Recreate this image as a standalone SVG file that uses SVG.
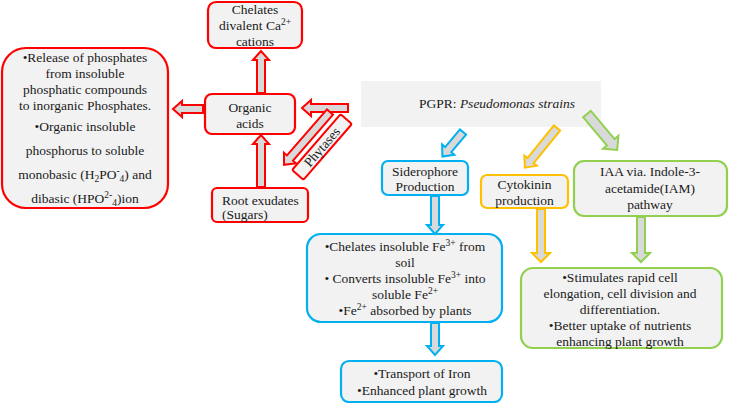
<svg xmlns="http://www.w3.org/2000/svg" width="729" height="403" viewBox="0 0 729 403">
<style>
text{font-family:'Liberation Serif','Times New Roman',serif;font-size:13.5px;fill:#1a1a1a}
.c{text-anchor:middle}
.box{fill:#f2f2f2;stroke-width:2.2}
.r{stroke:#ff0000}.b{stroke:#00b0f0}.y{stroke:#ffc000}.g{stroke:#92d050}
.ar{fill:#d9d9d9;stroke-width:2;stroke-linejoin:miter}
.s{font-size:9.5px}
</style>
<rect width="729" height="403" fill="#fff"/>
<g id="pgpr">
<rect x="361" y="81" width="240" height="46" fill="#f2f2f2"/>
<text x="497" y="108" class="c">PGPR: <tspan font-style="italic">Pseudomonas strains</tspan></text>
</g>

<g id="chelates">
<rect class="box r" x="208" y="2" width="94" height="46" rx="8"/>
<text x="255" y="13.5" class="c">Chelates</text>
<text x="255" y="30" class="c">divalent Ca<tspan class="s" dy="-5">2+</tspan></text>
<text x="255" y="45.5" class="c">cations</text>
</g>

<g id="phosphates">
<rect class="box r" x="2" y="48" width="166" height="160" rx="24"/>
<text x="85" y="62" class="c">•Release of phosphates</text>
<text x="85" y="78" class="c">from insoluble</text>
<text x="85" y="94" class="c">phosphatic  compounds</text>
<text x="85" y="110" class="c">to inorganic  Phosphates.</text>
<text x="85" y="131" class="c">•Organic insoluble</text>
<text x="85" y="155" class="c">phosphorus to soluble</text>
<text x="85" y="179" class="c">monobasic (H<tspan class="s" dy="3">2</tspan><tspan dy="-3">PO</tspan><tspan class="s" dy="-5">-</tspan><tspan class="s" dy="8">4</tspan><tspan dy="-3">) and</tspan></text>
<text x="85" y="203" class="c">dibasic  (HPO<tspan class="s" dy="-5">2-</tspan><tspan class="s" dy="8">4</tspan><tspan dy="-3">)ion</tspan></text>
</g>

<g id="organic">
<rect class="box r" x="205" y="94" width="90" height="40" rx="7"/>
<text x="250" y="112" class="c">Organic</text>
<text x="250" y="127.5" class="c">acids</text>
</g>

<g id="root">
<rect class="box r" x="212" y="188" width="96" height="34" rx="5"/>
<text x="222" y="205">Root exudates</text>
<text x="222" y="219">(Sugars)</text>
</g>

<g id="phytases">
<g transform="translate(322,147) rotate(-49)">
<rect x="-37" y="-7.5" width="74" height="15" rx="2" fill="#f2f2f2" stroke="#ff0000" stroke-width="2"/>
<text x="0" y="4.5" class="c">Phytases</text>
</g>
</g>

<g id="siderophore">
<rect class="box b" x="382" y="161" width="86" height="34" rx="6"/>
<text x="425" y="175.5" class="c">Siderophore</text>
<text x="425" y="191" class="c">Production</text>
</g>

<g id="cytokinin">
<rect class="box y" x="481" y="175" width="87" height="33" rx="6"/>
<text x="524.5" y="189" class="c">Cytokinin</text>
<text x="524.5" y="205" class="c">production</text>
</g>

<g id="iaa">
<rect class="box g" x="574" y="161" width="153" height="55" rx="10"/>
<text x="650" y="176" class="c">IAA via. Indole-3-</text>
<text x="650" y="193" class="c">acetamide(IAM)</text>
<text x="650" y="209" class="c">pathway</text>
</g>

<g id="iron">
<rect class="box b" x="307" y="234" width="195" height="88" rx="14"/>
<text x="405" y="251" class="c">•Chelates insoluble  Fe<tspan class="s" dy="-5">3+</tspan><tspan dy="5">  from</tspan></text>
<text x="405" y="267" class="c">soil</text>
<text x="405" y="283" class="c">• Converts  insoluble  Fe<tspan class="s" dy="-5">3+</tspan><tspan dy="5"> into</tspan></text>
<text x="405" y="299" class="c">soluble Fe<tspan class="s" dy="-5">2+</tspan></text>
<text x="405" y="315" class="c">•Fe<tspan class="s" dy="-5">2+</tspan><tspan dy="5"> absorbed by plants</tspan></text>
</g>

<g id="transport">
<rect class="box b" x="341" y="361" width="161" height="41" rx="8"/>
<text x="422" y="378" class="c">•Transport of Iron</text>
<text x="422" y="395" class="c">•Enhanced plant growth</text>
</g>

<g id="stimulates">
<rect class="box g" x="521" y="268" width="201" height="80" rx="12"/>
<text x="620" y="282" class="c">•Stimulates rapid cell</text>
<text x="620" y="298" class="c">elongation, cell division and</text>
<text x="620" y="314" class="c">differentiation.</text>
<text x="620" y="330" class="c">•Better uptake of nutrients</text>
<text x="620" y="346" class="c">enhancing plant growth</text>
</g>

<g id="connectors">
<path class="ar r" transform="translate(261,93) rotate(-90)" d="M0,-4 H33 V-8 L42,0 L33,8 V4 H0 Z"/>
<path class="ar r" transform="translate(203,109) rotate(180)" d="M0,-4 H21 V-8 L30,0 L21,8 V4 H0 Z"/>
<path class="ar r" transform="translate(348,108) rotate(180)" d="M0,-4 H37 V-8 L46,0 L37,8 V4 H0 Z"/>
<path class="ar r" transform="translate(261,187) rotate(-90)" d="M0,-4 H43 V-8 L52,0 L43,8 V4 H0 Z"/>
<path class="ar r" transform="translate(330,112) rotate(131)" d="M0,-4 H61 V-8 L70,0 L61,8 V4 H0 Z"/>
<path class="ar b" transform="translate(463,132) rotate(130)" d="M0,-4 H23 V-8 L32,0 L23,8 V4 H0 Z"/>
<path class="ar y" transform="translate(557,128) rotate(129)" d="M0,-4 H42 V-8 L51,0 L42,8 V4 H0 Z"/>
<path class="ar g" transform="translate(587,114) rotate(50)" d="M0,-5 H37 V-10 L47,0 L37,10 V5 H0 Z"/>
<path class="ar b" transform="translate(435,196) rotate(90)" d="M0,-4 H29 V-8 L38,0 L29,8 V4 H0 Z"/>
<path class="ar b" transform="translate(435,323) rotate(90)" d="M0,-4 H23 V-8 L32,0 L23,8 V4 H0 Z"/>
<path class="ar y" transform="translate(541,209) rotate(90)" d="M0,-4 H44 V-9 L53,0 L44,9 V4 H0 Z"/>
<path class="ar g" transform="translate(641,217) rotate(90)" d="M0,-4 H36 V-9 L45,0 L36,9 V4 H0 Z"/>
</g>
</svg>
